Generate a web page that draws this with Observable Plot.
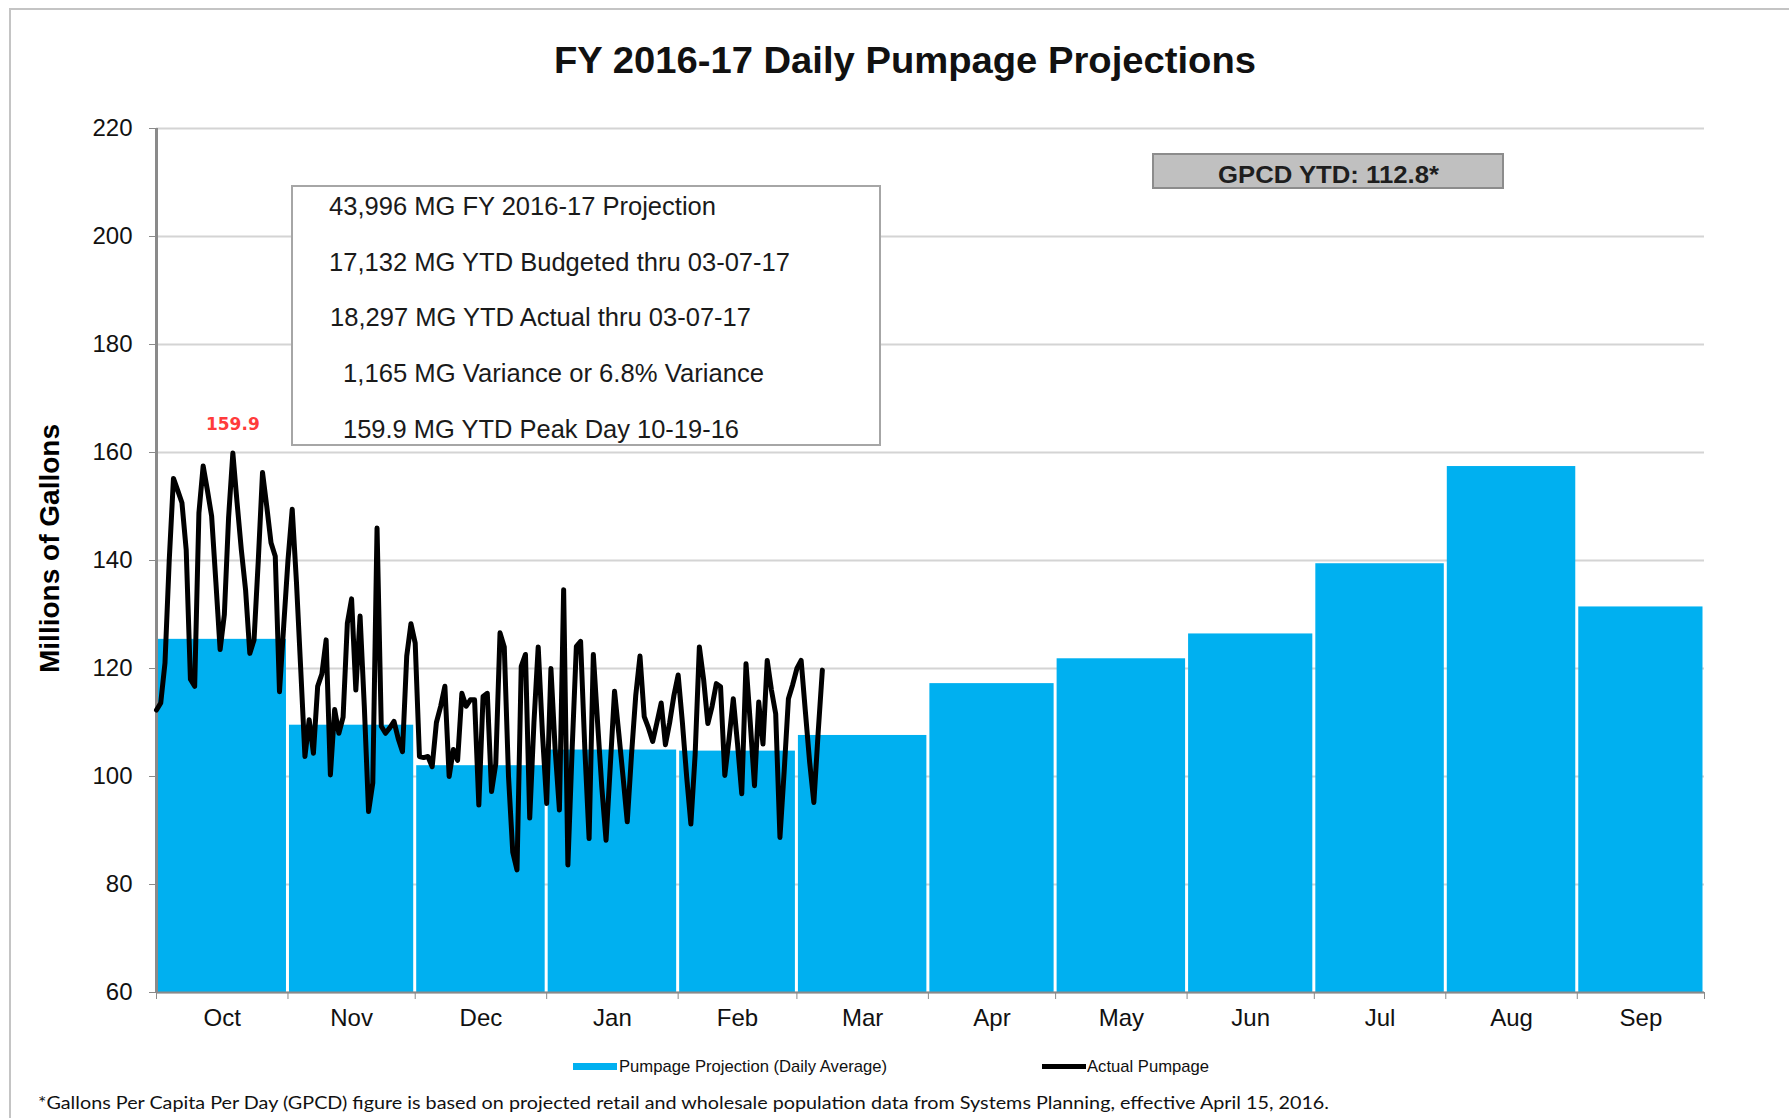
<!DOCTYPE html>
<html>
<head>
<meta charset="utf-8">
<script src="https://cdn.jsdelivr.net/npm/d3@7"></script>
<script src="https://cdn.jsdelivr.net/npm/@observablehq/plot@0.6"></script>
<style>
  html, body { margin: 0; padding: 0; background: #fff; }
  #wrap { position: relative; width: 1789px; height: 1118px; overflow: hidden; background: #fff; }
  #wrap svg { position: absolute; left: 0; top: 0; }
  .ov { position: absolute; white-space: nowrap; line-height: 1; transform-origin: 0 50%; }
  #frame { position: absolute; left: 9px; top: 8px; width: 1800px; height: 1200px;
           border-left: 2px solid #c4c4c4; border-top: 2px solid #c4c4c4; box-sizing: border-box; }
  #infobox { position: absolute; left: 291px; top: 185px; width: 590px; height: 261px;
             border: 2px solid #a6a6a6; background: #fff; box-sizing: border-box; }
  #gpcdbox { position: absolute; left: 1152px; top: 153px; width: 352px; height: 36px;
             border: 2px solid #8c8c8c; background: #c0c0c0; box-sizing: border-box; }
  .sw { position: absolute; }
</style>
</head>
<body>
<div id="wrap"><div id="frame"></div></div>
<script>
// ---------------- data ----------------
const months = ["Oct", "Nov", "Dec", "Jan", "Feb", "Mar", "Apr", "May", "Jun", "Jul", "Aug", "Sep"];
const monthDays = [31, 30, 31, 31, 28, 31, 30, 31, 30, 31, 31, 30];
// Pumpage projection (daily average), MG
const projection = [125.4, 109.5, 102.0, 104.9, 104.7, 107.6, 117.2, 121.8, 126.4, 139.4, 157.4, 131.4];
const yTicks = [60, 80, 100, 120, 140, 160, 180, 200, 220];

// Actual daily pumpage, MG (Oct 1, 2016 – Mar 7, 2017)
const actualOct = [112.3, 113.6, 121, 140, 155.2, 153, 150.7, 142, 118, 116.7, 148.8, 157.5, 153, 148.2, 136, 123.5,
  130, 148, 159.9, 150.7, 142, 134.6, 122.8, 125.3, 140, 156.3, 150, 143.3, 140.8, 115.7, 128];
const actualNov = [140, 149.5, 136, 120, 103.7, 110.5, 104.3, 116.7, 119, 125.3, 100.3, 112.4, 108, 111, 128.4, 132.9,
  116, 129.7, 113, 93.5, 98.8, 146, 109.3, 108, 109, 110.2, 107, 104.6, 122.3, 128.3];
const actualDec = [124.7, 103.7, 103.5, 103.7, 101.8, 110, 113, 116.7, 100, 105, 103, 115.4, 113, 114.2, 114.2, 94.7,
  114.8, 115.4, 97.2, 102.4, 126.6, 124, 100, 86, 82.7, 120.4, 122.6, 92.3, 110, 124, 108];
const actualJan = [95, 120, 105, 93.8, 134.6, 83.6, 105, 124.1, 125, 105, 88.5, 122.6, 110, 98, 88.2, 102,
  115.8, 108, 100, 91.6, 104, 115, 122.3, 111.1, 109, 106.5, 110, 113.6, 105.9, 110, 115];
const actualFeb = [118.8, 110, 100, 91.2, 104, 124, 118, 109.8, 113, 117.2, 116.6, 100.2, 107, 114.4, 106, 96.8,
  120.9, 110, 98.3, 113.8, 106, 121.5, 116, 111.6, 88.7, 101, 114.4, 117];
const actualMar = [120, 121.5, 112, 102.7, 95.2, 108, 119.7];

const peakValue = 159.9;
const peakLabel = "159.9";

// texts
const titleText = "FY 2016-17 Daily Pumpage Projections";
const yLabelText = "Millions of Gallons";
const infoLines = [
  "43,996 MG FY 2016-17 Projection",
  "17,132 MG YTD Budgeted thru 03-07-17",
  "18,297 MG YTD Actual thru 03-07-17",
  "1,165 MG Variance or 6.8% Variance",
  "159.9 MG YTD Peak Day 10-19-16"
];
const gpcdText = "GPCD YTD: 112.8*";
const legendLabels = ["Pumpage Projection (Daily Average)", "Actual Pumpage"];
const footnoteText = "*Gallons Per Capita Per Day (GPCD) figure is based on projected retail and wholesale population data from Systems Planning, effective  April 15, 2016.";

// ---------------- derived tables ----------------
const starts = [];
{ let s = 0; for (const d of monthDays) { starts.push(s); s += d; } }
const totalDays = starts[starts.length - 1] + monthDays[monthDays.length - 1];
const bars = months.map((m, i) => ({month: m, x1: starts[i], x2: starts[i] + monthDays[i], value: projection[i]}));
const actualByMonth = [actualOct, actualNov, actualDec, actualJan, actualFeb, actualMar];
const actual = [];
actualByMonth.forEach((arr, mi) => arr.forEach((v, d) => actual.push({day: starts[mi] + d, value: v})));
const peak = actual.find(d => d.value === peakValue);
const centers = months.map((m, i) => starts[i] + monthDays[i] / 2);
const boundaries = [...starts, totalDays];

// ---------------- chart ----------------
const axisGray = "#8a8a8a";
const chart = Plot.plot({
  width: 1789,
  height: 1118,
  marginLeft: 156,
  marginRight: 85,
  marginTop: 128,
  marginBottom: 126,
  style: {fontFamily: "'Liberation Sans', Arial, sans-serif", fontSize: "24px", color: "#111", background: "transparent"},
  x: {domain: [0, totalDays]},
  y: {domain: [60, 220]},
  marks: [
    Plot.gridY(yTicks, {stroke: "#d4d4d4", strokeOpacity: 1, strokeWidth: 2}),
    Plot.rect(bars, {x1: "x1", x2: "x2", y1: 60, y2: "value", fill: "#00b0f0", insetLeft: 1.5, insetRight: 1.5}),
    Plot.ruleY([60], {stroke: axisGray, strokeWidth: 2}),
    Plot.ruleX([0], {y1: 60, y2: 220, stroke: axisGray, strokeWidth: 3}),
    Plot.axisY(yTicks, {tickSize: 7, tickPadding: 17, stroke: axisGray, fill: "#111", fontSize: 24, label: null}),
    Plot.axisX(boundaries, {tickSize: 7, tickFormat: () => "", stroke: axisGray, label: null}),
    Plot.axisX(centers, {tickSize: 0, tickPadding: 16, tickFormat: d => months[centers.indexOf(d)], fill: "#111", fontSize: 24, label: null}),
    Plot.line(actual, {x: "day", y: "value", stroke: "#000", strokeWidth: 5, strokeLinejoin: "round", strokeLinecap: "round"}),
    Plot.text([peak], {x: "day", y: "value", text: () => peakLabel, dy: -28, fill: "#ff3b3b",
      fontFamily: "'DejaVu Sans', sans-serif", fontWeight: "bold", fontSize: 17})
  ]
});
const wrap = document.getElementById("wrap");
wrap.insertBefore(chart, wrap.firstChild);

// ---------------- overlays ----------------
function addText(txt, opt) {
  const el = document.createElement("div");
  el.className = "ov";
  el.textContent = txt;
  el.style.fontFamily = opt.family || "'Liberation Sans', Arial, sans-serif";
  el.style.fontSize = opt.size + "px";
  el.style.fontWeight = opt.weight || "normal";
  el.style.color = opt.color || "#111";
  wrap.appendChild(el);
  const w = el.getBoundingClientRect().width;
  const h = el.getBoundingClientRect().height;
  const sx = opt.width ? opt.width / w : 1;
  const left = opt.cx !== undefined ? opt.cx - (opt.width || w) / 2 : opt.left;
  el.style.left = left + "px";
  el.style.top = (opt.cy - h / 2) + "px";
  let tr = `scaleX(${sx})`;
  if (opt.rotate) {
    el.style.transformOrigin = "50% 50%";
    el.style.left = (opt.cx - w / 2) + "px";
    tr = `rotate(${opt.rotate}deg) scaleX(${sx})`;
  }
  el.style.transform = tr;
  return el;
}

// title
addText(titleText, {cx: 905, cy: 60, size: 37, weight: "bold", width: 702, color: "#111"});

// y label
addText(yLabelText, {cx: 50, cy: 548, size: 27, weight: "bold", width: 249, rotate: -90, color: "#000",
  family: "'Liberation Sans Narrow', 'Liberation Sans', sans-serif"});

// info box
const infoBox = document.createElement("div");
infoBox.id = "infobox";
wrap.appendChild(infoBox);
const infoLefts = [329, 329, 330, 343, 343];
const infoCys = [206, 262, 317, 373, 429];
const infoWidths = [387, 461, 421, 421, 396];
infoLines.forEach((t, i) => addText(t, {left: infoLefts[i], cy: infoCys[i], size: 25, width: infoWidths[i], color: "#1a1a1a"}));

// GPCD box
const gbox = document.createElement("div");
gbox.id = "gpcdbox";
wrap.appendChild(gbox);
addText(gpcdText, {cx: 1328, cy: 175, size: 24, weight: "bold", width: 221, color: "#1e1e1e"});

// legend
function swatch(left, top, w, h, color) {
  const s = document.createElement("div");
  s.className = "sw";
  Object.assign(s.style, {left: left + "px", top: top + "px", width: w + "px", height: h + "px", background: color});
  wrap.appendChild(s);
}
swatch(573, 1063, 44, 7, "#00b0f0");
swatch(1042, 1064, 44, 5, "#000");
addText(legendLabels[0], {left: 619, cy: 1066, size: 17, width: 268, color: "#111",
  family: "'Liberation Sans Narrow', 'Liberation Sans', sans-serif"});
addText(legendLabels[1], {left: 1087, cy: 1066, size: 17, width: 122, color: "#111",
  family: "'Liberation Sans Narrow', 'Liberation Sans', sans-serif"});

// footnote
addText(footnoteText, {left: 38, cy: 1102, size: 18, width: 1291, color: "#111", family: "Lato, 'Open Sans', sans-serif"});
</script>
</body>
</html>
